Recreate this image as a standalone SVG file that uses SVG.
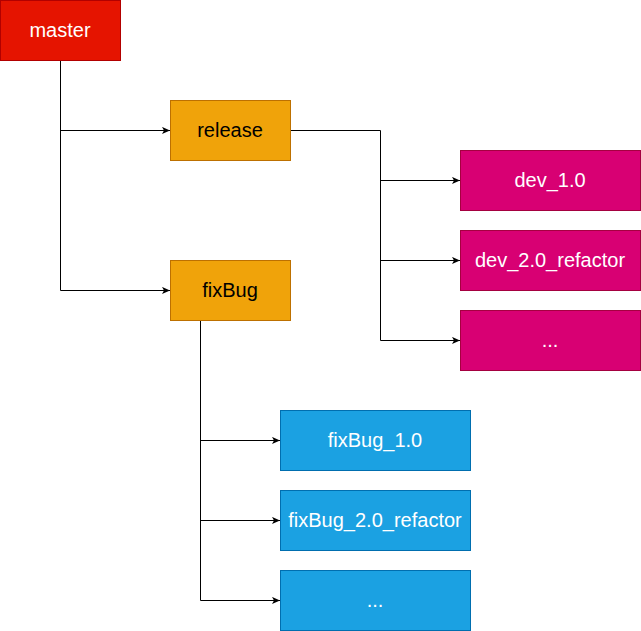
<svg xmlns="http://www.w3.org/2000/svg" width="641" height="631" viewBox="0 0 641 631">
<style>
.n text{font-family:"Liberation Sans",Arial,Helvetica,sans-serif;font-size:20px;text-anchor:middle;fill:#fff}
.red rect{fill:#e51400;stroke:#b20000}
.org rect{fill:#f0a30a;stroke:#bd7000}
.org text{fill:#000}
.pnk rect{fill:#d80073;stroke:#a50040}
.blu rect{fill:#1ba1e2;stroke:#006eaf}
.e{fill:none;stroke:#000;stroke-width:1}
</style>
<defs>
<marker id="a" viewBox="0 0 10 10" refX="10" refY="5" markerWidth="8" markerHeight="8" markerUnits="userSpaceOnUse" orient="auto">
<path d="M0,0.5 L10,5 L0,9.5 L2.5,5 Z" fill="#000"/>
</marker>
</defs>
<rect width="641" height="631" fill="#fff"/>
<g id="connectors">
<path class="e" d="M60.5,60 V290.5 H170" marker-end="url(#a)"/>
<path class="e" d="M60.5,130.5 H170" marker-end="url(#a)"/>
<path class="e" d="M290,130.5 H380.5 V340.5 H460" marker-end="url(#a)"/>
<path class="e" d="M380.5,180.5 H460" marker-end="url(#a)"/>
<path class="e" d="M380.5,260.5 H460" marker-end="url(#a)"/>
<path class="e" d="M200.5,320 V600.5 H280" marker-end="url(#a)"/>
<path class="e" d="M200.5,440.5 H280" marker-end="url(#a)"/>
<path class="e" d="M200.5,520.5 H280" marker-end="url(#a)"/>
</g>
<g id="master" class="n red"><rect x="0.5" y="0.5" width="120" height="60"/><text x="60" y="37">master</text></g>
<g id="release" class="n org"><rect x="170.5" y="100.5" width="120" height="60"/><text x="230" y="137">release</text></g>
<g id="fixBug" class="n org"><rect x="170.5" y="260.5" width="120" height="60"/><text x="230" y="297">fixBug</text></g>
<g id="dev_1.0" class="n pnk"><rect x="460.5" y="150.5" width="180" height="60"/><text x="550" y="187">dev_1.0</text></g>
<g id="dev_2.0_refactor" class="n pnk"><rect x="460.5" y="230.5" width="180" height="60"/><text x="550" y="267">dev_2.0_refactor</text></g>
<g id="dev_more" class="n pnk"><rect x="460.5" y="310.5" width="180" height="60"/><text x="550" y="347">...</text></g>
<g id="fixBug_1.0" class="n blu"><rect x="280.5" y="410.5" width="190" height="60"/><text x="375" y="447">fixBug_1.0</text></g>
<g id="fixBug_2.0_refactor" class="n blu"><rect x="280.5" y="490.5" width="190" height="60"/><text x="375" y="527">fixBug_2.0_refactor</text></g>
<g id="fixBug_more" class="n blu"><rect x="280.5" y="570.5" width="190" height="60"/><text x="375" y="607">...</text></g>
</svg>
